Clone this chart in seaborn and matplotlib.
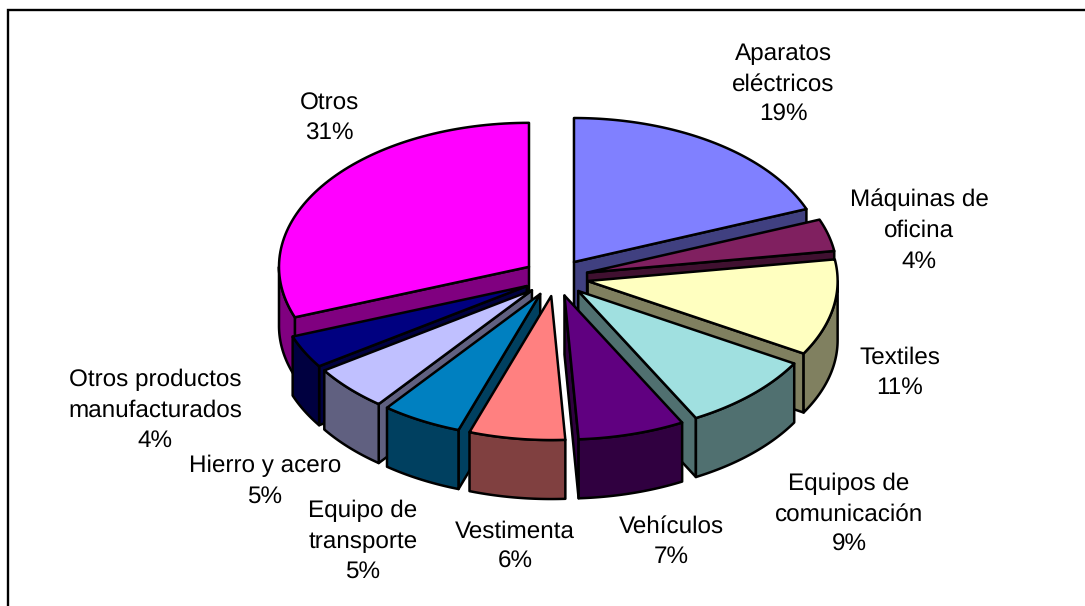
# Exploded 3D pie of export shares, built from the shares with seaborn styling

import numpy as np
import matplotlib
matplotlib.use("Agg")
import matplotlib.pyplot as plt
import seaborn as sns

# Data

sectors = ["Aparatos\neléctricos", "Máquinas de\noficina", "Textiles", "Equipos de\ncomunicación",
           "Vehículos", "Vestimenta", "Equipo de\ntransporte", "Hierro y acero",
           "Otros productos\nmanufacturados", "Otros"]
shares = [19.0, 3.6, 10.8, 8.8, 6.9, 6.2, 5.2, 5.1, 3.7, 30.7]

# Styles and layout (in figure pixels)

colors = ["#8080FF", "#802060", "#FFFFC0", "#A0E0E0", "#600080",
          "#FF8080", "#0080C0", "#C0C0FF", "#000080", "#FF00FF"]
label_centres = [(783, 84.5), (919, 230.5), (900, 372.5), (849, 514.5), (671, 541.5),
                 (515, 546.5), (363, 541.5), (265, 481.5), (155, 410.5), (329, 118.5)]
cx, cy = 555.7, 277.5
rx, ry = 250, 144
explode = 0.13
depth = 59
edge = 1.8

sns.set_theme(style = "white")
plt.rcParams['font.family'] = ['Liberation Sans', 'DejaVu Sans']
plt.rcParams['text.hinting'] = 'none'
palette = sns.color_palette(colors)

fig = plt.figure(figsize = (10.85, 6.06), dpi = 100)
ax = fig.add_axes([0, 0, 1, 1])
ax.set_xlim(0, 1085)
ax.set_ylim(606, 0)
ax.axis("off")

# Angles run clockwise from twelve o'clock

ends = np.cumsum(shares) / np.sum(shares) * 360
starts = np.concatenate([[0], ends[:-1]])
mids = (starts + ends) / 2

def rim(ox, oy, angles):
    rad = np.radians(angles)
    return ox + rx * np.sin(rad), oy - ry * np.cos(rad)

def face(xs, ys, colour, z):
    ax.fill(xs, ys, facecolor = colour, edgecolor = "black", linewidth = edge, joinstyle = "round", zorder = z)

# Slices further back get painted first

order = np.argsort(-np.cos(np.radians(mids)))

for z, i in enumerate(order):
    a, b, m = starts[i], ends[i], np.radians(mids[i])
    ox = cx + explode * rx * np.sin(m)
    oy = cy - explode * ry * np.cos(m)
    top = palette[i]
    side = tuple(c * 0.5 for c in top)

    # Cut walls facing the viewer
    for angle, visible in [(a, a >= 180), (b, b <= 180)]:
        if visible:
            ex, ey = rim(ox, oy, angle)
            face([ox, ex, ex, ox], [oy, ey, ey + depth, oy + depth], side, z * 3)

    # Outer wall on the front half
    lo, hi = max(a, 90), min(b, 270)
    if lo < hi:
        rx_pts, ry_pts = rim(ox, oy, np.linspace(lo, hi, 60))
        face(np.r_[rx_pts, rx_pts[::-1]], np.r_[ry_pts, ry_pts[::-1] + depth], side, z * 3 + 1)

    # Top of the slice
    tx, ty = rim(ox, oy, np.linspace(a, b, 80))
    face(np.r_[ox, tx], np.r_[oy, ty], top, z * 3 + 2)

# Labels

for name, share, (lx, ly) in zip(sectors, shares, label_centres):
    ax.text(lx, ly, f"{name}\n{round(share)}%", ha = "center", va = "center",
            fontsize = 17.5, color = "black", linespacing = 1.47, zorder = 100)

# Chart frame: only the left and top sides show

ax.plot([8, 8, 1085], [606, 10, 10], color = "black", linewidth = 1.7, solid_joinstyle = "miter", zorder = 101)

plt.savefig("out.png", dpi = 100)
